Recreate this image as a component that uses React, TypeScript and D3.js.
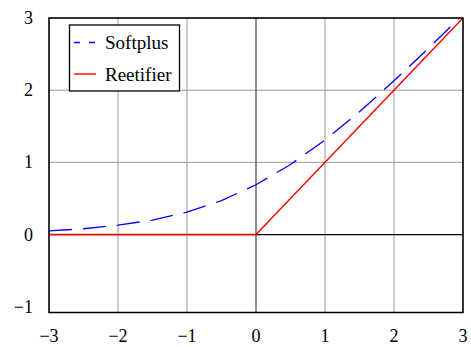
import React, { useEffect, useRef } from 'react';
import * as d3 from 'd3';

// values
const xTicks = [-3, -2, -1, 0, 1, 2, 3];
const yTicks = [-1, 0, 1, 2, 3];
const softplusX = [-3, -2.5, -2, -1.5, -1, -0.5, 0, 0.5, 1, 1.5, 2, 2.5, 3];
const softplusY = [0.05, 0.08, 0.13, 0.2, 0.31, 0.47, 0.69, 0.97, 1.31, 1.7, 2.13, 2.58, 3.05];
const rectX = [-3, 0, 3];
const rectY = [0, 0, 3];
const seriesNames = ['Softplus', 'Reetifier'];

const width = 471;
const height = 347;
const margin = { top: 18, right: 8, bottom: 34.5, left: 49 };
const fontFamily = "'Liberation Serif', 'Times New Roman', Times, serif";

export default function App() {
	const ref = useRef<SVGSVGElement>(null);

	useEffect(() => {
		const svg = d3.select(ref.current);
		svg.selectAll('*').remove();

		const xScale = d3.scaleLinear().domain([-3, 3]).range([margin.left, width - margin.right]);
		const yScale = d3.scaleLinear().domain([-1.08, 3]).range([height - margin.bottom, margin.top]);

		svg
			.append('clipPath')
			.attr('id', 'plot-clip')
			.append('rect')
			.attr('x', margin.left)
			.attr('y', margin.top)
			.attr('width', width - margin.left - margin.right)
			.attr('height', height - margin.top - margin.bottom);

		// grid (no line at -1, the frame sits just below it)
		const grid = svg.append('g');
		grid
			.selectAll('line.vx')
			.data(xTicks.filter(d => d !== 0))
			.enter()
			.append('line')
			.attr('x1', d => xScale(d))
			.attr('x2', d => xScale(d))
			.attr('y1', yScale.range()[0])
			.attr('y2', yScale.range()[1])
			.attr('stroke', '#999')
			.attr('stroke-width', 1);
		grid
			.selectAll('line.hy')
			.data(yTicks.filter(d => d > 0))
			.enter()
			.append('line')
			.attr('x1', xScale.range()[0])
			.attr('x2', xScale.range()[1])
			.attr('y1', d => yScale(d))
			.attr('y2', d => yScale(d))
			.attr('stroke', '#999')
			.attr('stroke-width', 1);

		// zero axes
		svg
			.append('line')
			.attr('x1', xScale(0))
			.attr('x2', xScale(0))
			.attr('y1', yScale.range()[0])
			.attr('y2', yScale.range()[1])
			.attr('stroke', '#444')
			.attr('stroke-width', 1.2);
		svg
			.append('line')
			.attr('x1', xScale.range()[0])
			.attr('x2', xScale.range()[1])
			.attr('y1', yScale(0))
			.attr('y2', yScale(0))
			.attr('stroke', '#000')
			.attr('stroke-width', 1.2);

		const line = d3
			.line<[number, number]>()
			.x(d => xScale(d[0]))
			.y(d => yScale(d[1]));

		const plot = svg.append('g').attr('clip-path', 'url(#plot-clip)');
		plot
			.append('path')
			.datum(softplusX.map((x, i) => [x, softplusY[i]] as [number, number]))
			.attr('d', line)
			.attr('fill', 'none')
			.attr('stroke', '#0000ff')
			.attr('stroke-width', 1.3)
			.attr('stroke-dasharray', '23,11');
		plot
			.append('path')
			.datum(rectX.map((x, i) => [x, rectY[i]] as [number, number]))
			.attr('d', line)
			.attr('fill', 'none')
			.attr('stroke', '#ff0000')
			.attr('stroke-width', 1.4);

		// frame
		svg
			.append('rect')
			.attr('x', margin.left)
			.attr('y', margin.top)
			.attr('width', width - margin.left - margin.right)
			.attr('height', height - margin.top - margin.bottom)
			.attr('fill', 'none')
			.attr('stroke', '#000')
			.attr('stroke-width', 1.5);

		const fmt = (d: number) => String(d).replace('-', '\u2212');

		// tick labels
		svg
			.selectAll('text.xt')
			.data(xTicks)
			.enter()
			.append('text')
			.attr('x', d => xScale(d))
			.attr('y', 342)
			.attr('text-anchor', 'middle')
			.style('font-family', fontFamily)
			.style('font-size', '18px')
			.text(fmt);
		svg
			.selectAll('text.yt')
			.data(yTicks)
			.enter()
			.append('text')
			.attr('x', 33)
			.attr('y', d => yScale(d))
			.attr('dy', '0.34em')
			.attr('text-anchor', 'end')
			.style('font-family', fontFamily)
			.style('font-size', '18px')
			.text(fmt);

		// legend
		const legend = svg.append('g');
		legend
			.append('rect')
			.attr('x', 69.5)
			.attr('y', 25)
			.attr('width', 110)
			.attr('height', 66)
			.attr('fill', '#fff')
			.attr('stroke', '#000')
			.attr('stroke-width', 1.3);
		const colors = ['#0000ff', '#ff0000'];
		const dashes = ['6,9', null];
		seriesNames.forEach((name, i) => {
			const cy = 42.5 + i * 31.5;
			legend
				.append('line')
				.attr('x1', 74)
				.attr('x2', 96)
				.attr('y1', cy)
				.attr('y2', cy)
				.attr('stroke', colors[i])
				.attr('stroke-width', 1.4)
				.attr('stroke-dasharray', dashes[i]);
			legend
				.append('text')
				.attr('x', 105)
				.attr('y', cy + 6.5)
				.style('font-family', fontFamily)
				.style('font-size', '19px')
				.text(name);
		});
	}, []);

	return (
		<svg
			ref={ref}
			width={width}
			height={height}
			style={{ position: 'absolute', left: 0, top: 0, background: '#fff' }}
		/>
	);
}
